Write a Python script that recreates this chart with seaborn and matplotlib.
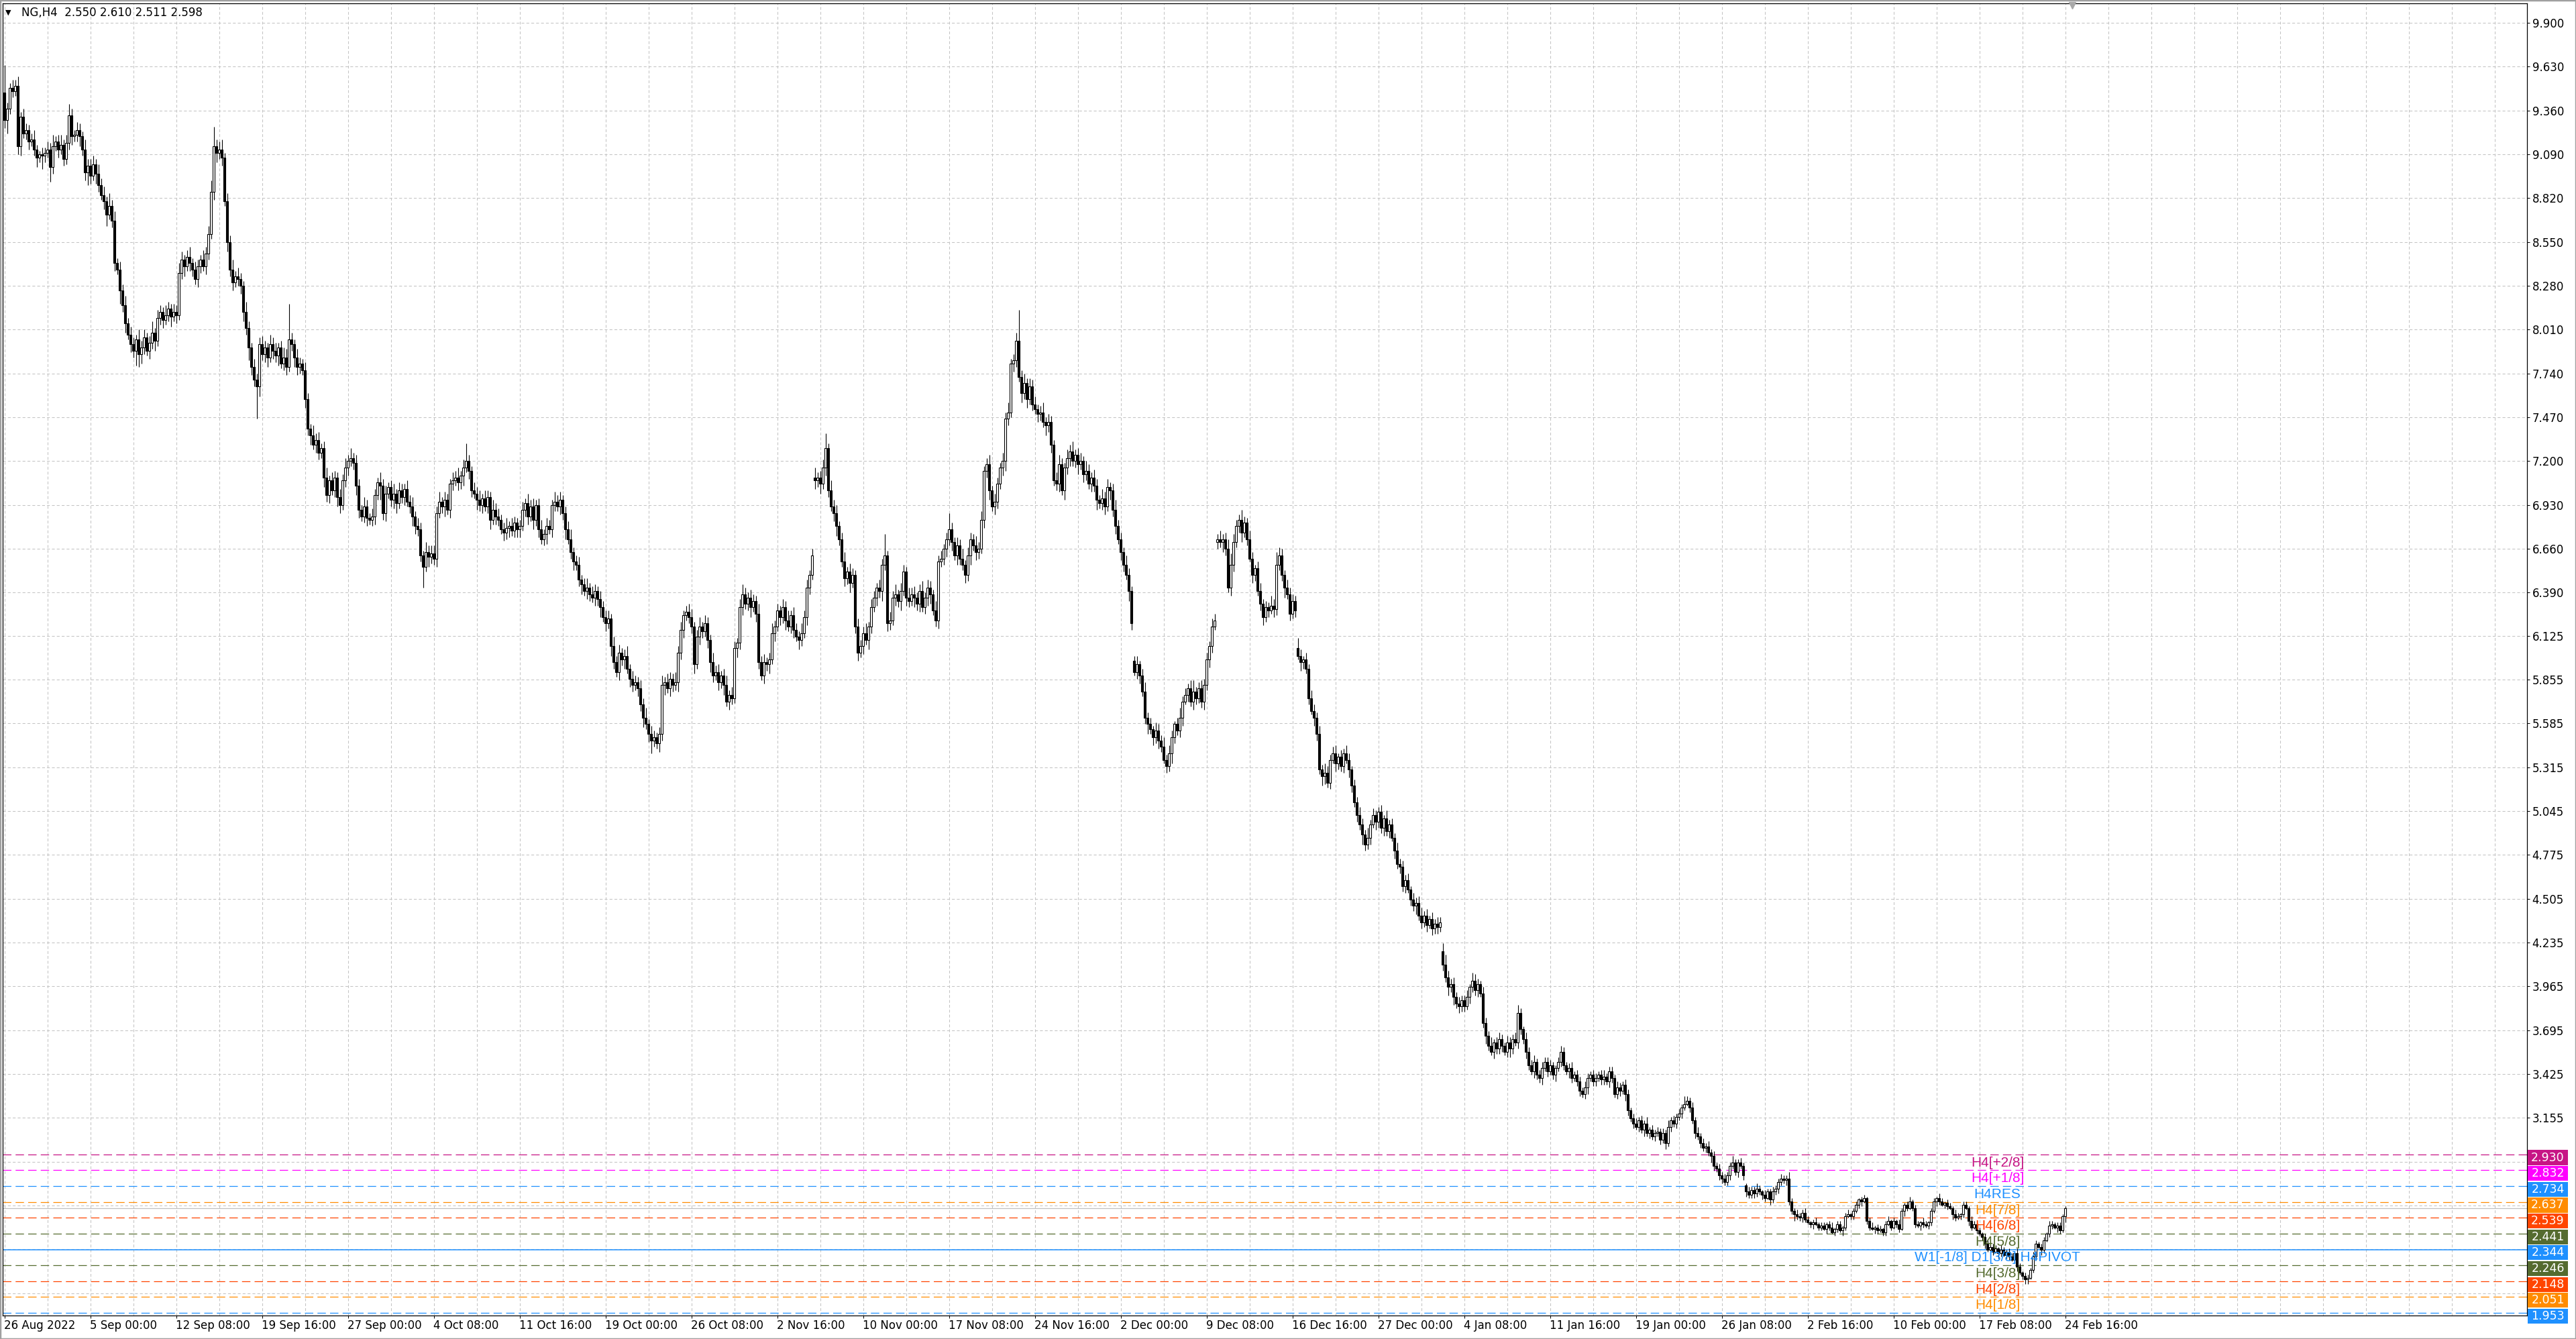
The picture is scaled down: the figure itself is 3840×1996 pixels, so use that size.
import numpy as np
import pandas as pd
import matplotlib
matplotlib.use("Agg")
import matplotlib.pyplot as plt
import matplotlib.transforms as mtransforms
from matplotlib.patches import Rectangle
import seaborn as sns

# ---------------- data ----------------
header_text = "NG,H4  2.550 2.610 2.511 2.598"
last_ohlc = [2.550, 2.610, 2.511, 2.598]

closes = [
    9.30, 9.37, 9.50, 9.48, 9.51, 9.14, 9.32, 9.22, 9.24, 9.17, 9.18, 9.12, 9.07, 9.09, 9.08, 9.10,
    9.12, 9.01, 9.14, 9.17, 9.12, 9.15, 9.06, 9.16, 9.33, 9.20, 9.21, 9.24, 9.20, 9.12, 8.98, 9.02,
    8.96, 9.03, 8.97, 8.90, 8.84, 8.80, 8.72, 8.77, 8.68, 8.42, 8.38, 8.25, 8.16, 8.05, 7.98, 7.92,
    7.88, 7.95, 7.86, 7.90, 7.96, 7.88, 7.93, 7.99, 7.94, 8.08, 8.12, 8.07, 8.10, 8.14, 8.09, 8.12,
    8.10, 8.36, 8.44, 8.40, 8.46, 8.42, 8.38, 8.32, 8.40, 8.44, 8.40, 8.48, 8.60, 8.86, 9.14, 9.10,
    9.12, 9.07, 8.80, 8.55, 8.38, 8.30, 8.34, 8.32, 8.28, 8.12, 8.02, 7.90, 7.78, 7.70, 7.66, 7.92,
    7.86, 7.90, 7.84, 7.92, 7.88, 7.85, 7.90, 7.80, 7.84, 7.78, 7.95, 7.92, 7.84, 7.78, 7.80, 7.76,
    7.58, 7.40, 7.36, 7.30, 7.33, 7.25, 7.28, 7.10, 6.99, 7.08, 7.02, 7.10, 6.98, 6.93, 7.08, 7.16,
    7.20, 7.22, 7.19, 7.05, 6.90, 6.86, 6.92, 6.85, 6.84, 6.86, 6.99, 7.07, 7.05, 6.88, 7.00, 7.04,
    6.96, 7.00, 6.94, 7.02, 6.98, 7.03, 6.95, 6.92, 6.86, 6.80, 6.78, 6.62, 6.55, 6.64, 6.61, 6.63,
    6.60, 6.88, 6.95, 6.92, 6.96, 6.90, 7.06, 7.08, 7.10, 7.07, 7.11, 7.16, 7.20, 7.14, 7.02, 7.00,
    6.96, 6.93, 6.97, 6.92, 6.98, 6.84, 6.90, 6.86, 6.84, 6.78, 6.76, 6.79, 6.80, 6.77, 6.82, 6.78,
    6.80, 6.90, 6.94, 6.86, 6.92, 6.84, 6.93, 6.78, 6.72, 6.75, 6.80, 6.78, 6.93, 6.95, 6.92, 6.96,
    6.88, 6.78, 6.72, 6.64, 6.58, 6.56, 6.47, 6.44, 6.40, 6.42, 6.38, 6.36, 6.40, 6.35, 6.30, 6.24,
    6.20, 6.23, 6.06, 5.96, 5.90, 6.02, 5.98, 6.00, 5.92, 5.86, 5.82, 5.84, 5.80, 5.70, 5.62, 5.58,
    5.52, 5.48, 5.50, 5.46, 5.52, 5.82, 5.84, 5.80, 5.86, 5.82, 5.84, 6.02, 6.16, 6.25, 6.27, 6.24,
    6.18, 5.95, 6.12, 6.18, 6.15, 6.20, 6.10, 5.96, 5.88, 5.90, 5.84, 5.88, 5.82, 5.72, 5.76, 5.74,
    6.05, 6.08, 6.30, 6.38, 6.32, 6.36, 6.30, 6.34, 6.26, 5.96, 5.88, 5.96, 5.95, 5.98, 6.14, 6.18,
    6.28, 6.24, 6.30, 6.22, 6.18, 6.25, 6.16, 6.12, 6.10, 6.14, 6.24, 6.42, 6.50, 6.62, 7.08, 7.10,
    7.06, 7.16, 7.28, 7.02, 6.92, 6.88, 6.80, 6.72, 6.58, 6.48, 6.52, 6.45, 6.50, 6.18, 6.02, 6.06,
    6.14, 6.10, 6.18, 6.30, 6.36, 6.42, 6.40, 6.56, 6.62, 6.20, 6.22, 6.36, 6.38, 6.34, 6.40, 6.52,
    6.36, 6.34, 6.38, 6.36, 6.32, 6.40, 6.30, 6.36, 6.42, 6.38, 6.28, 6.22, 6.58, 6.60, 6.66, 6.72,
    6.78, 6.70, 6.62, 6.68, 6.60, 6.56, 6.50, 6.62, 6.72, 6.68, 6.64, 6.66, 6.84, 7.14, 7.18, 7.02,
    6.92, 6.95, 7.06, 7.16, 7.20, 7.46, 7.50, 7.80, 7.82, 7.94, 7.72, 7.62, 7.68, 7.58, 7.66, 7.55,
    7.52, 7.49, 7.50, 7.44, 7.42, 7.44, 7.30, 7.08, 7.06, 7.18, 7.02, 7.16, 7.22, 7.26, 7.20, 7.24,
    7.18, 7.20, 7.12, 7.14, 7.06, 7.10, 7.05, 6.96, 6.94, 6.97, 6.92, 7.04, 7.02, 6.90, 6.80, 6.72,
    6.64, 6.56, 6.50, 6.40, 6.20, 5.90, 5.95, 5.88, 5.78, 5.62, 5.58, 5.55, 5.50, 5.54, 5.48, 5.44,
    5.36, 5.32, 5.40, 5.50, 5.58, 5.54, 5.62, 5.72, 5.76, 5.80, 5.72, 5.78, 5.74, 5.80, 5.72, 5.82,
    5.98, 6.06, 6.18, 6.22, 6.72, 6.70, 6.72, 6.66, 6.42, 6.56, 6.70, 6.80, 6.84, 6.76, 6.82, 6.72,
    6.60, 6.50, 6.54, 6.40, 6.32, 6.24, 6.30, 6.28, 6.31, 6.29, 6.56, 6.62, 6.50, 6.42, 6.38, 6.26,
    6.34, 6.28, 6.00, 5.96, 5.98, 5.92, 5.74, 5.66, 5.62, 5.52, 5.30, 5.26, 5.28, 5.22, 5.36, 5.40,
    5.34, 5.38, 5.32, 5.40, 5.36, 5.30, 5.20, 5.10, 5.02, 4.96, 4.90, 4.84, 4.88, 4.96, 5.02, 4.98,
    5.04, 4.94, 5.00, 4.92, 4.96, 4.88, 4.80, 4.72, 4.70, 4.58, 4.62, 4.56, 4.50, 4.46, 4.48, 4.40,
    4.36, 4.40, 4.34, 4.38, 4.32, 4.35, 4.33, 4.36, 4.10, 4.02, 3.96, 3.98, 3.90, 3.86, 3.84, 3.88,
    3.84, 3.90, 3.96, 4.00, 3.94, 3.98, 3.92, 3.74, 3.66, 3.60, 3.56, 3.62, 3.58, 3.64, 3.60, 3.56,
    3.62, 3.58, 3.64, 3.62, 3.80, 3.70, 3.64, 3.56, 3.48, 3.44, 3.50, 3.42, 3.40, 3.46, 3.50, 3.44,
    3.48, 3.42, 3.46, 3.50, 3.56, 3.48, 3.44, 3.46, 3.40, 3.42, 3.38, 3.32, 3.30, 3.34, 3.40, 3.42,
    3.38, 3.40, 3.42, 3.39, 3.41, 3.38, 3.44, 3.40, 3.30, 3.34, 3.32, 3.36, 3.30, 3.20, 3.15, 3.12,
    3.10, 3.14, 3.08, 3.12, 3.06, 3.08, 3.04, 3.06, 3.07, 3.02, 3.06, 3.00, 3.10, 3.14, 3.12, 3.16,
    3.18, 3.22, 3.24, 3.26, 3.22, 3.14, 3.06, 3.04, 3.00, 2.97, 2.98, 2.94, 2.92, 2.86, 2.84, 2.80,
    2.78, 2.76, 2.80, 2.86, 2.88, 2.82, 2.88, 2.86, 2.80, 2.70, 2.68, 2.71, 2.69, 2.72, 2.70, 2.68,
    2.66, 2.70, 2.65, 2.70, 2.72, 2.76, 2.78, 2.77, 2.78, 2.64, 2.58, 2.56, 2.55, 2.54, 2.57, 2.53,
    2.51, 2.50, 2.51, 2.50, 2.48, 2.49, 2.47, 2.50, 2.48, 2.45, 2.47, 2.50, 2.46, 2.48, 2.55, 2.56,
    2.55, 2.58, 2.62, 2.65, 2.64, 2.66, 2.52, 2.48, 2.47, 2.48, 2.46, 2.47, 2.45, 2.50, 2.52, 2.48,
    2.52, 2.50, 2.47, 2.58, 2.62, 2.60, 2.64, 2.60, 2.50, 2.49, 2.51, 2.50, 2.49, 2.51, 2.58, 2.64,
    2.66, 2.64, 2.62, 2.63, 2.61, 2.60, 2.56, 2.54, 2.55, 2.56, 2.62, 2.60, 2.52, 2.48, 2.50, 2.46,
    2.44, 2.42, 2.38, 2.34, 2.36, 2.33, 2.35, 2.32, 2.34, 2.31, 2.33, 2.30, 2.28, 2.32, 2.24, 2.20,
    2.18, 2.16, 2.17, 2.22, 2.30, 2.38, 2.36, 2.34, 2.40, 2.44, 2.49, 2.50, 2.48, 2.49, 2.46, 2.55,
    2.598,
]

# wick lengths above / below the body, in hundredths of a dollar
up_wick = [
    17,4,3,5,4,6,3,5,4,3,4,6,3,2,4,3,5,4,7,3,4,6,3,5,7,4,3,5,4,3,6,4,
    4,5,3,6,4,5,3,8,4,6,3,5,4,6,3,5,4,3,6,4,5,3,4,7,3,5,4,3,6,4,3,5,
    4,6,5,3,4,6,3,5,4,3,6,4,5,7,12,4,5,6,3,5,4,6,3,5,4,3,6,4,3,5,4,4,
    5,4,3,6,4,5,3,4,6,5,22,4,3,5,4,3,5,4,3,6,4,5,3,4,6,3,5,4,3,5,4,6,
    4,6,3,5,4,3,6,4,3,5,4,3,6,4,5,3,4,6,3,5,4,3,5,4,6,3,5,4,3,6,4,5,
    5,4,6,3,5,4,3,5,4,6,3,5,11,4,3,5,4,6,3,5,4,3,6,4,5,3,4,6,3,5,4,3,
    4,5,3,6,4,5,3,4,6,3,5,4,3,6,4,5,3,4,5,6,3,4,5,3,4,6,3,5,4,3,5,4,
    4,5,3,6,4,5,3,4,6,3,5,4,3,5,4,6,3,5,4,3,4,6,3,5,4,3,6,4,5,3,4,5,
    5,3,4,6,3,5,4,3,6,4,5,3,4,6,3,5,4,3,5,6,4,3,5,4,3,6,4,5,3,4,6,4,
    4,3,5,4,6,3,5,4,3,6,4,5,3,4,6,3,4,5,9,3,6,4,5,3,4,6,3,5,4,3,5,4,
    4,6,3,5,4,3,5,4,13,3,5,4,6,3,5,4,3,6,4,5,3,4,6,3,5,4,3,6,4,5,3,4,
    10,4,3,5,4,6,3,5,4,3,6,4,5,3,4,6,3,5,4,3,5,4,6,3,4,5,19,4,6,3,5,4,
    5,3,4,6,3,5,4,3,5,6,4,3,5,4,6,3,4,5,3,6,4,3,5,4,3,6,4,5,3,4,6,4,
    4,3,6,4,3,3,5,2,4,6,3,4,2,5,4,3,6,3,5,4,2,4,6,3,4,3,5,7,3,4,5,4,
    4,3,5,4,3,5,3,4,6,7,5,4,3,6,4,3,5,4,2,4,5,3,4,3,6,4,8,5,4,3,5,4,
    4,3,6,4,2,4,3,5,4,3,5,3,6,4,3,4,5,2,4,3,5,4,2,4,3,5,4,3,6,3,4,3,
    3,4,2,5,3,4,3,5,3,4,3,4,2,4,3,4,5,3,4,2,4,3,4,3,5,6,4,3,4,3,4,3,
    3,4,2,5,4,3,2,4,3,3,5,2,3,4,3,2,4,3,3,4,5,3,2,4,3,3,4,2,3,4,3,3,
    3,2,2,3,4,3,2,3,4,2,3,3,2,4,3,2,3,3,2,3,4,2,3,3,2,4,3,2,3,3,2,3,
    3,2,3,2,4,2,3,2,3,2,3,2,4,2,3,2,3,2,5,3,2,3,2,4,2,3,2,3,2,3,2,3,
    2,3,2,2,4,2,2,3,2,1,3,2,2,3,2,1,3,2,2,3,2,2,3,2,2,4,2,2,3,2,2,3,
    2,1,2,3,1,2,2,1,2,3,1,2,2,1,2,3,1,2,2,1,2,2,1,2,3,1,2,2,1,2,3,1,
    2,1,3,2,1,2,3,1,2,2,1,3,2,1,2,2,1,3,2,1,2,2,1,3,2,1,2,2,1,3,2,1,
    2,1,2,3,1,2,2,1,3,2,1,2,2,1,3,2,1,2,2,1,3,2,1,2,2,1,3,2,1,2,2,1,
    1,
]
down_wick = [
    5,8,3,4,3,5,6,3,4,5,3,4,6,3,8,4,3,9,4,3,5,3,4,3,4,5,3,4,6,4,5,8,
    5,3,6,4,3,5,7,3,4,5,3,8,4,6,3,5,4,9,8,6,4,3,5,4,6,3,4,5,3,4,6,3,
    5,3,4,6,3,5,4,3,5,4,3,5,4,3,5,6,4,5,3,6,4,5,3,4,5,6,4,8,5,4,20,6,
    4,5,6,3,5,4,6,3,4,5,3,4,6,5,4,3,5,4,6,3,5,4,3,6,4,5,3,4,6,5,3,4,
    5,3,4,6,5,3,4,5,3,4,5,3,9,4,5,3,4,5,6,3,4,5,3,4,6,5,4,4,13,3,6,4,
    4,5,3,4,6,3,5,4,3,5,4,6,3,5,4,3,6,4,5,3,4,6,3,5,4,3,5,4,6,3,4,5,
    5,3,4,5,3,6,4,5,3,4,6,3,5,4,3,5,4,6,3,4,5,3,4,6,3,5,4,3,5,4,6,3,
    5,3,6,4,3,5,4,6,3,5,4,3,5,4,6,3,5,8,4,3,5,4,6,3,5,4,3,6,4,5,3,4,
    4,6,3,5,4,3,5,6,4,3,5,4,6,3,5,4,3,6,4,5,3,4,6,3,5,4,3,5,4,6,3,5,
    3,5,4,6,3,4,5,3,6,4,3,5,4,3,5,4,6,3,5,4,3,5,6,4,3,5,4,6,3,4,5,3,
    5,3,6,4,3,5,4,6,3,5,4,3,5,4,6,3,5,4,3,6,4,5,3,4,5,6,3,4,5,3,4,5,
    4,5,3,6,4,3,5,4,6,3,5,4,3,5,4,6,3,5,4,3,5,6,4,3,5,4,3,6,4,5,3,4,
    3,5,4,3,6,4,5,3,4,5,3,6,4,5,3,4,6,3,5,4,3,5,4,6,3,4,5,3,6,4,5,3,
    5,4,3,6,4,2,4,5,3,4,6,3,5,4,5,3,2,4,3,6,4,3,4,5,2,4,3,5,4,3,4,5,
    3,5,4,2,4,3,6,4,3,5,4,3,4,6,3,4,2,5,4,3,4,5,3,4,2,5,4,3,4,6,3,4,
    3,4,2,5,4,3,4,2,5,4,3,6,5,3,4,2,5,4,3,4,2,5,4,3,4,3,6,4,3,4,2,5,
    4,3,5,3,4,2,5,3,4,3,4,2,4,3,5,3,4,3,4,2,4,3,4,3,4,3,5,3,5,3,4,3,
    3,2,4,3,3,4,2,3,5,3,2,4,3,3,4,2,3,5,3,2,4,3,3,4,3,2,4,3,3,4,2,3,
    2,3,4,2,3,3,2,4,3,2,3,3,2,3,4,2,3,3,2,3,3,2,4,3,2,3,3,2,4,3,2,3,
    2,3,2,4,2,3,2,3,2,3,2,4,2,3,2,3,2,3,2,1,3,2,3,2,3,2,3,2,4,3,2,3,
    3,2,2,3,2,2,3,2,3,3,2,2,3,2,2,3,2,1,3,2,2,3,2,2,3,2,2,4,2,2,3,2,
    1,2,3,1,2,2,1,3,2,1,2,2,1,3,2,1,2,2,1,2,3,1,2,2,1,3,2,1,2,2,1,2,
    1,2,2,1,3,2,1,2,2,1,3,2,1,2,2,1,3,2,1,2,2,1,3,2,1,2,2,1,3,2,1,2,
    1,2,3,1,2,2,1,3,2,1,2,2,1,2,3,1,2,3,3,1,2,2,1,3,2,1,2,2,1,3,2,1,
    4,
]

# opens that differ from the previous close (session gaps)
gap_opens = {0: 9.47, 302: 7.10, 421: 5.97, 452: 6.70, 482: 6.05, 536: 4.18, 649: 2.74}

date_labels = ["26 Aug 2022", "5 Sep 00:00", "12 Sep 08:00", "19 Sep 16:00", "27 Sep 00:00",
               "4 Oct 08:00", "11 Oct 16:00", "19 Oct 00:00", "26 Oct 08:00", "2 Nov 16:00",
               "10 Nov 00:00", "17 Nov 08:00", "24 Nov 16:00", "2 Dec 00:00", "9 Dec 08:00",
               "16 Dec 16:00", "27 Dec 00:00", "4 Jan 08:00", "11 Jan 16:00", "19 Jan 00:00",
               "26 Jan 08:00", "2 Feb 16:00", "10 Feb 00:00", "17 Feb 08:00", "24 Feb 16:00"]
date_label_bars = [32 * k for k in range(len(date_labels))]

price_ticks = [9.900, 9.630, 9.360, 9.090, 8.820, 8.550, 8.280, 8.010, 7.740, 7.470, 7.200,
               6.930, 6.660, 6.390, 6.125, 5.855, 5.585, 5.315, 5.045, 4.775, 4.505, 4.235,
               3.965, 3.695, 3.425, 3.155]
hidden_grid_prices = [2.885, 2.615, 2.345, 2.075]

levels = [2.930, 2.832, 2.734, 2.637, 2.539, 2.441, 2.344, 2.246, 2.148, 2.051, 1.953]
level_names = ["H4[+2/8]", "H4[+1/8]", "H4RES", "H4[7/8]", "H4[6/8]", "H4[5/8]",
               "W1[-1/8] D1[3/8] H4PIVOT", "H4[3/8]", "H4[2/8]", "H4[1/8]", "H4SUP"]
level_colors = ["#C71585", "#FF00FF", "#1E90FF", "#FF8C00", "#FF4500", "#556B2F",
                "#1E90FF", "#556B2F", "#FF4500", "#FF8C00", "#1E90FF"]
level_solid = [False, False, False, False, False, False, True, False, False, False, False]
bid_price = 2.598

# ---------------- build OHLC ----------------
sns.set_theme(style="white")
plt.rcParams['font.family'] = ['DejaVu Sans']

n = len(closes)
def fit(lst, fill):
    lst = list(lst)[:n]
    return lst + [fill] * (n - len(lst))

c = np.array(closes, dtype=float)
o = np.empty(n)
o[0] = c[0]
o[1:] = c[:-1]
for k, v in gap_opens.items():
    o[k] = v
o[-1] = last_ohlc[0]
uw = np.array(fit(up_wick, 2), dtype=float) / 100.0
dw = np.array(fit(down_wick, 2), dtype=float) / 100.0
hi = np.maximum(o, c) + uw
lo = np.minimum(o, c) - dw
hi[-1] = last_ohlc[1]
lo[-1] = last_ohlc[2]
df = pd.DataFrame(dict(bar=np.arange(n), open=o, high=hi, low=lo, close=c))
df["bull"] = df["close"] >= df["open"]

# ---------------- figure ----------------
W, H = 3840, 1996
fig = plt.figure(figsize=(W / 100, H / 100), dpi=100, facecolor="white")
ax_l, ax_r, ax_t, ax_b = 4, 3767, 5, 1961
ax = fig.add_axes([ax_l / W, (H - ax_b) / H, (ax_r - ax_l) / W, (ax_b - ax_t) / H])
ax.set_facecolor("white")

# bar centres fall on pixel centres (4 px per bar)
XMIN, XMAX = -0.625, 940.125
YMIN, YMAX = 1.937, 10.02
ax.set_xlim(XMIN, XMAX)
ax.set_ylim(YMIN, YMAX)

grid_kw = dict(color="#C4C4C4", lw=0.75, ls=(0, (4, 3)), zorder=0)
for b in range(0, 941, 16):
    ax.axvline(b, **grid_kw)
for p in price_ticks + hidden_grid_prices:
    ax.axhline(p, **grid_kw)

# level lines
for lv, col, solid in zip(levels, level_colors, level_solid):
    if solid:
        ax.axhline(lv, color=col, lw=1.1, ls="-", zorder=1)
    else:
        ax.axhline(lv, color=col, lw=0.9, ls=(0, (10, 5)), zorder=1)
ax.axhline(bid_price, color="#C0C0C0", lw=0.9, ls="-", zorder=1)

# candles
ax.vlines(df["bar"], df["low"], df["high"], color="black", lw=0.8, zorder=3)
bull = df[df["bull"]]
bear = df[~df["bull"]]
ax.bar(bull["bar"], (bull["close"] - bull["open"]).clip(lower=0.003), bottom=bull["open"],
       width=0.6, color="white", edgecolor="black", linewidth=0.8, zorder=4)
ax.bar(bear["bar"], bear["open"] - bear["close"], bottom=bear["close"],
       width=0.6, color="black", edgecolor="black", linewidth=0.8, zorder=4)

# level names
for lv, name, col in zip(levels, level_names, level_colors):
    ax.text(742.75, lv - 0.012, name, ha="center", va="top", color=col, fontsize=15,
            family=["Liberation Sans", "DejaVu Sans"], zorder=6, clip_on=True)

# right-side value boxes
trans = mtransforms.blended_transform_factory(ax.transAxes, ax.transData)
bx0 = (3768 - ax_l) / (ax_r - ax_l)
bw = 60 / (ax_r - ax_l)
for lv, col in zip(levels, level_colors):
    ax.add_patch(Rectangle((bx0, lv - 0.02 - 0.046), bw, 0.092, transform=trans,
                           facecolor=col, edgecolor="none", clip_on=False, zorder=10))
    ax.text(bx0 + bw / 2, lv - 0.02, f"{lv:.3f}", transform=trans, ha="center", va="center",
            color="white", fontsize=12.5, clip_on=False, zorder=11)

# axes styling
for s in ax.spines.values():
    s.set_visible(True)
    s.set_color("black")
    s.set_linewidth(0.9)
ax.yaxis.tick_right()
ax.set_yticks(price_ticks)
ax.set_yticklabels([f"{p:.3f}" for p in price_ticks])
ax.set_xticks(date_label_bars)
ax.set_xticklabels(date_labels, ha="left")
ax.tick_params(axis="y", which="both", direction="out", length=3, width=0.75, pad=2.5,
               labelsize=12, colors="black", left=False, right=True)
ax.tick_params(axis="x", which="both", direction="out", length=3, width=0.75, pad=1.5,
               labelsize=12, colors="black", bottom=True)
ax.grid(False)

# chart-shift marker at the top
ax.plot([770.5], [YMAX - 0.012], marker="v", color="#A8A8A8", ms=7, clip_on=False, zorder=12)

# header
fig.text(8 / W, 1 - 19 / H, "\u25BC", fontsize=8, color="black", va="center", ha="left")
fig.text(32 / W, 1 - 19 / H, header_text, fontsize=12, color="black", va="center", ha="left")

# outer window frame
fig.patches.append(Rectangle((0, 0), 1, 1, transform=fig.transFigure, fill=False,
                             edgecolor="#A0A0A0", lw=2.5, zorder=20))

fig.savefig("out.png", dpi=100, facecolor="white")
